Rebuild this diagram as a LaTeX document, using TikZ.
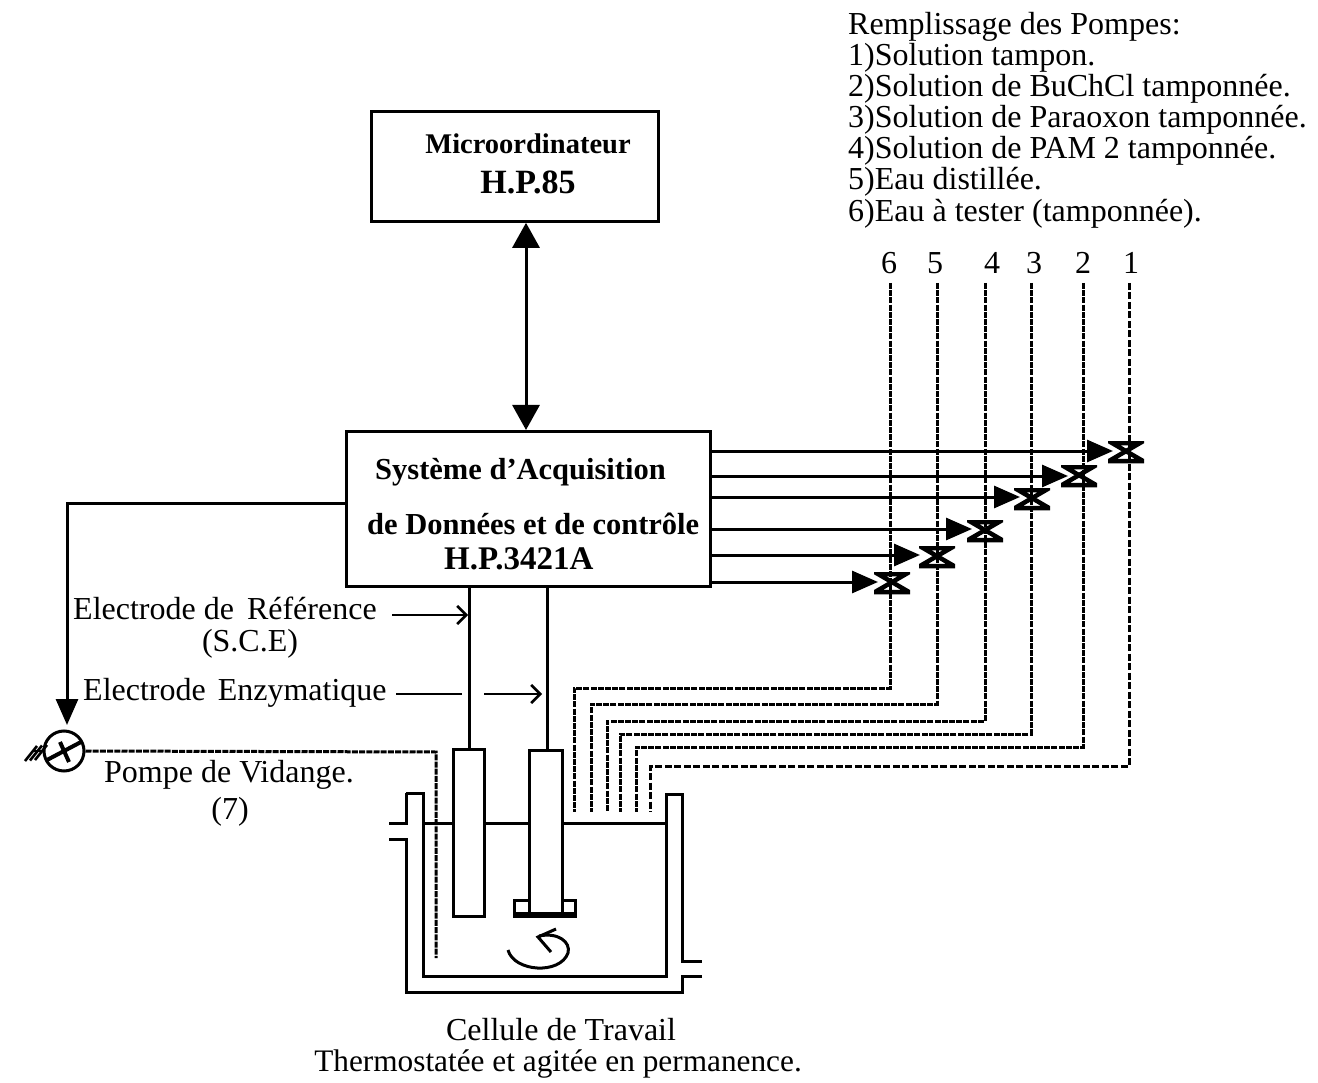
\documentclass[tikz,border=0pt]{standalone}
\usepackage{fontspec}
\setmainfont{Liberation Serif}
\usetikzlibrary{arrows.meta}
\tikzset{
  txt/.style={inner sep=0pt,font=\fontsize{32}{31}\selectfont},
  btxt/.style={inner sep=0pt,font=\fontsize{30.5}{31}\selectfont\bfseries},
  boxx/.style={draw,line width=2.8pt,inner sep=0pt},
  wire/.style={line width=3pt},
  bigtip/.style={-{Triangle[length=26pt,width=22pt]}},
  lead/.style={line width=2.6pt,-{Straight Barb[length=9pt,width=18pt,line width=2.6pt]}},
  tube/.style={line width=3pt,dash pattern=on 6pt off 1.2pt},
  tubeb/.style={line width=3pt,dash pattern=on 7pt off 2.5pt},
  cell/.style={line width=3pt,fill=white},
  valve/.style={minimum width=36pt,minimum height=22pt,inner sep=0pt,
    path picture={\draw[line width=4.5pt]
      ([xshift=4pt,yshift=-2pt]path picture bounding box.north west) --
      ([xshift=-4pt,yshift=-2pt]path picture bounding box.north east) --
      ([xshift=1pt,yshift=2pt]path picture bounding box.south west) --
      ([xshift=-1pt,yshift=2pt]path picture bounding box.south east) -- cycle;}},
}
\begin{document}
\begin{tikzpicture}[x=1pt,y=-1pt]
\useasboundingbox (0,0) rectangle (1318,1083);
% blocks
\node[boxx,minimum width=287pt,minimum height=110pt,anchor=north west] (micro) at (370,110) {};
\node[boxx,minimum width=364pt,minimum height=155pt,anchor=north west] (sys) at (345,430) {};
\node[btxt,font=\fontsize{28.5}{31}\selectfont\bfseries] (m1) at (528,144) {Microordinateur};
\node[btxt,font=\fontsize{34}{31}\selectfont\bfseries] (m2) at (528,182) {H.P.85};
\node[btxt,anchor=base west] (s1) at (375,479) {Système d'Acquisition};
\node[btxt,anchor=base west] (s2) at (367,534) {de Données et de contrôle};
\node[btxt,font=\fontsize{33}{31}\selectfont\bfseries,anchor=base west] (s3) at (444,569) {H.P.3421A};
\draw[wire,{Triangle[length=25pt,width=27pt]}-{Triangle[length=25pt,width=27pt]}] (micro.south -| 526,0) -- (sys.north -| 526,0);
% pump list
\node[txt,anchor=base west] (l0) at (848,35) {Remplissage des Pompes:};
\node[txt,anchor=base west] (l1) at (848,66) {1)Solution tampon.};
\node[txt,anchor=base west] (l2) at (848,97) {2)Solution de BuChCl tamponnée.};
\node[txt,anchor=base west] (l3) at (848,128) {3)Solution de Paraoxon tamponnée.};
\node[txt,anchor=base west] (l4) at (848,159) {4)Solution de PAM 2 tamponnée.};
\node[txt,anchor=base west] (l5) at (848,190) {5)Eau distillée.};
\node[txt,anchor=base west] (l6) at (848,222) {6)Eau à tester (tamponnée).};
\foreach \n/\x in {6/889,5/935,4/992,3/1034,2/1083,1/1131}
  \node[txt] (n\n) at (\x,263) {\n};
% tubes
\foreach \n/\x/\yy/\xx in {6/890/688/574,5/937/704/591,4/985/721/607,3/1031/734/620,2/1083/747/636}{
  \coordinate (t\n) at (\x,283);
  \coordinate (c\n) at (\x,\yy);
  \coordinate (e\n) at (\xx,812);
  \draw[tube] (t\n) -- (c\n) -| (e\n);
}
\coordinate (t1) at (1129,283);
\coordinate (c1) at (1129,766);
\coordinate (e1) at (650,812);
\draw[tubeb] (t1) -- (c1) -| (e1);
% valves and control lines
\foreach \n/\x/\y/\tip/\wy in {1/1126/452/1113/451,2/1079/476/1068/476,3/1032/499/1020/497,4/985/531/972/529,5/937/557/920/555,6/892/583/878/582}{
  \node[valve] (v\n) at (\x,\y) {};
  \coordinate (w\n) at (709,\wy);
  \coordinate (a\n) at (\tip,\wy);
  \draw[wire,bigtip] (w\n) -- (a\n);
}
% cell
\coordinate (drainc) at (436,752);
\coordinate (draine) at (436,958);
\draw[cell] (406,793) -- (423,793) -- (423,976) -- (666,976) -- (666,794) -- (682,794) -- (682,961) -- (702,961)
  (702,976) -- (682,976) -- (682,992) -- (406,992) -- (406,839) -- (389,839)
  (389,823) -- (406,823) -- (406,793);
\draw[wire] (423,823) -- (666,823);
% pump
\node[draw,circle,line width=3pt,minimum size=40pt,inner sep=0pt] (pump) at (64,751) {};
\draw[line width=4pt] (pump.center) ++(-17,9) -- ++(34,-18);
\draw[line width=4pt] (pump.center) ++(-4,-9) -- ++(9,20);
\draw[tube] (pump.east) -- (drainc) -- (draine);
\draw[wire,bigtip] (sys.west |- 0,503) -| (67,725);
\draw[line width=2.4pt] (pump.west) ++(-1,0) -- ++(-8,0);
\foreach \d in {0,5,10}
  \draw[line width=2.6pt] (43,752) ++(-\d,\d*0.1) ++(-8,8) -- ++(12,-15);
% electrodes
\node[cell,draw,minimum width=31pt,minimum height=167pt,inner sep=0pt,anchor=north west] (el1) at (452,748) {};
\draw[line width=3pt] (514,900) rectangle (575,916);
\node[cell,draw,minimum width=33pt,minimum height=166pt,inner sep=0pt,anchor=north west] (el2) at (528,749) {};
\draw[line width=6pt] (514,915) -- (575,915);
\draw[wire] (469,585) -- (el1.north -| 469,0);
\draw[wire] (547,585) -- (el2.north -| 547,0);
% stirrer
\draw[line width=3pt] (508,950) .. controls (514,972) and (560,975) .. (568,953) .. controls (571,942) and (558,932) .. (539,936);
\draw[line width=3pt] (556,929) -- (538,937) -- (551,952);
% labels
\node[txt,anchor=base west] (r1) at (73,619) {Electrode de\hspace{5pt} Référence};
\node[txt] (r2) at (250,644) {(S.C.E)};
\coordinate (ra) at (392,615);
\coordinate (rb) at (468,615);
\draw[lead] (ra) -- (rb);
\node[txt,anchor=base west] (q1) at (83,700) {Electrode\hspace{4pt} Enzymatique};
\coordinate (qa) at (396,694);
\coordinate (qb) at (462,694);
\coordinate (qc) at (484,694);
\coordinate (qd) at (542,694);
\draw[line width=2.6pt] (qa) -- (qb);
\draw[lead] (qc) -- (qd);
\node[txt,anchor=base west] (p1) at (104,782) {Pompe de Vidange.};
\node[txt] (p2) at (230,812) {(7)};
\node[txt] (c1t) at (561,1030) {Cellule de Travail};
\node[txt,font=\fontsize{31.3}{31}\selectfont] (c2t) at (558,1064) {Thermostatée et agitée en permanence.};
\end{tikzpicture}
\end{document}
